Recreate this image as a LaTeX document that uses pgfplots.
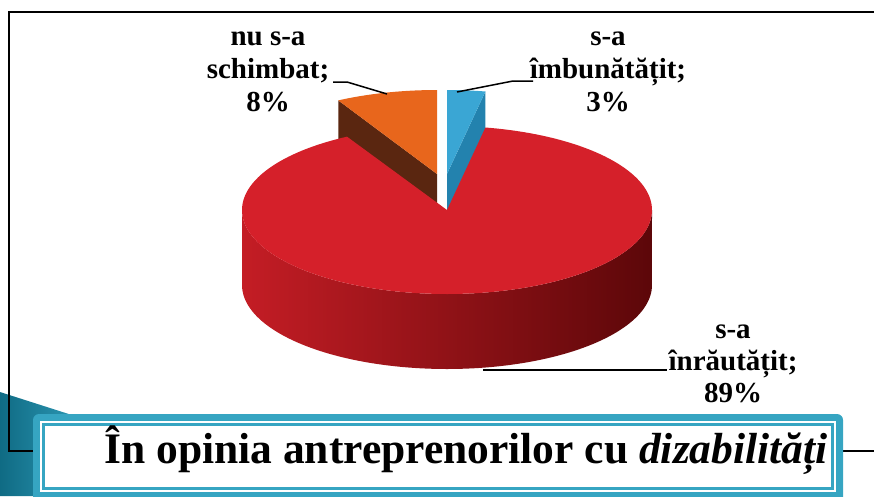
\documentclass[border=0pt]{standalone}
\usepackage{fontspec}
\setmainfont{Liberation Serif}
\usepackage{pgfplots}
\pgfplotsset{compat=1.18}
\usepackage{pgfplotstable}

\definecolor{redtop}{HTML}{D5202A}
\definecolor{redsideL}{HTML}{C41D25}
\definecolor{redsideM}{HTML}{96121A}
\definecolor{redsideR}{HTML}{5C0709}
\definecolor{orangetop}{HTML}{E8661C}
\definecolor{orangeside}{HTML}{5A2610}
\definecolor{bluetop}{HTML}{3AA6D4}
\definecolor{blueside}{HTML}{2382AE}
\definecolor{tealbox}{HTML}{36A5C2}
\definecolor{tealdark}{HTML}{0F6B84}
\definecolor{teallight}{HTML}{2C96B2}

\pgfplotstableread{
share value
imbunatatit 3
schimbat 8
inrautatit 89
}\piedata

% geometry of the pie (pixel units)
\def\pcx{447}\def\pcy{210}\def\prx{205}\def\pry{84}\def\pdd{75}

\begin{document}
\begin{tikzpicture}
\pgfplotstablegetelem{0}{value}\of\piedata\pgfmathsetmacro\vBlue{\pgfplotsretval}
\pgfplotstablegetelem{1}{value}\of\piedata\pgfmathsetmacro\vOrange{\pgfplotsretval}
\pgfmathsetmacro\aBs{90-3.6*\vBlue}
\pgfmathsetmacro\aBe{90}
\pgfmathsetmacro\aOs{90}
\pgfmathsetmacro\aOe{90+3.6*\vOrange}
\pgfmathsetmacro\aRs{\aOe}
\pgfmathsetmacro\aRe{\aBs+360}
% exploded offsets
\def\blx{0}\def\bly{-36}
\def\olx{-10}\def\oly{-36}
% radial faces
\pgfmathsetmacro\BcX{\pcx+\blx}\pgfmathsetmacro\BcY{\pcy+\bly}
\pgfmathsetmacro\BrX{\pcx+\blx+\prx*cos(\aBs)}\pgfmathsetmacro\BrY{\pcy+\bly-\pry*sin(\aBs)}
\pgfmathsetmacro\OcX{\pcx+\olx}\pgfmathsetmacro\OcY{\pcy+\oly}
\pgfmathsetmacro\OrX{\pcx+\olx+\prx*cos(\aOe)}\pgfmathsetmacro\OrY{\pcy+\oly-\pry*sin(\aOe)}
\pgfmathsetmacro\BrYd{\BrY+\pdd}\pgfmathsetmacro\BcYd{\BcY+\pdd}
\pgfmathsetmacro\OrYd{\OrY+\pdd}\pgfmathsetmacro\OcYd{\OcY+\pdd}
\begin{axis}[x=1pt, y=1pt, y dir=reverse,
  xmin=0, xmax=874, ymin=0, ymax=496,
  scale only axis, hide axis, clip=false]

% decorative teal shape bottom-left
\shade[left color=tealdark, right color=teallight] (0,392) -- (75,416) -- (75,496) -- (0,496) -- cycle;

% frame
\draw[line width=2.5pt, line cap=rect] (9,451) -- (9,12) -- (880,12);
\draw[line width=2pt] (9,451) -- (880,451);

% blue slice (exploded)
\addplot[fill=blueside, draw=none] coordinates {(\BcX,\BcY) (\BrX,\BrY) (\BrX,\BrYd) (\BcX,\BcYd)};
\addplot[fill=bluetop, draw=none, domain=-0.05:1, samples=106]
  ({\pcx+\blx+((x<-0.001)?0:1)*\prx*cos(\aBs+(\aBe-\aBs)*x)},
   {\pcy+\bly-((x<-0.001)?0:1)*\pry*sin(\aBs+(\aBe-\aBs)*x)});

% orange slice (exploded)
\addplot[fill=orangeside, draw=none] coordinates {(\OcX,\OcY) (\OrX,\OrY) (\OrX,\OrYd) (\OcX,\OcYd)};
\addplot[fill=orangetop, draw=none, domain=-0.05:1, samples=106]
  ({\pcx+\olx+((x<-0.001)?0:1)*\prx*cos(\aOs+(\aOe-\aOs)*x)},
   {\pcy+\oly-((x<-0.001)?0:1)*\pry*sin(\aOs+(\aOe-\aOs)*x)});

% red slice: side
\addplot[draw=none, left color=redsideL, middle color=redsideM, right color=redsideR, domain=0:2, samples=201]
  ({\pcx+\prx*cos(180+180*((x<=1)?x:(2-x)))},
   {\pcy-\pry*sin(180+180*((x<=1)?x:(2-x)))+((x>1)?\pdd:0)});
% red slice: top
\addplot[fill=redtop, draw=none, domain=-0.05:1, samples=206]
  ({\pcx+((x<-0.001)?0:1)*\prx*cos(\aRs+(\aRe-\aRs)*x)},
   {\pcy-((x<-0.001)?0:1)*\pry*sin(\aRs+(\aRe-\aRs)*x)});

% leader lines
\draw[line width=1.5pt] (333,82) -- (347,82) -- (387,94);
\draw[line width=1.5pt] (533,81) -- (513,81) -- (457,92);
\draw[line width=1.5pt] (483,370) -- (667,370);

% labels
\begin{scope}[every node/.style={anchor=base, font=\fontsize{29}{30}\selectfont\bfseries, inner sep=0pt}]
\node at (268,45) {nu s-a};
\node at (268,78) {schimbat;};
\node at (268,111) {8\%};
\node at (608,45) {s-a};
\node at (608,78) {îmbunătățit;};
\node at (608,111) {3\%};
\node at (733,338) {s-a};
\node at (733,370) {înrăutățit;};
\node at (733,402) {89\%};
\end{scope}

% title box
\fill[tealbox, rounded corners=6pt] (33,414) rectangle (843,506);
\fill[white] (40,421) rectangle (836,492);
\draw[tealbox, line width=2.5pt] (43.5,424.5) rectangle (832.5,488.5);
\node[anchor=base, inner sep=0pt, font=\fontsize{43.5}{45}\selectfont\bfseries] at (466,463) {În opinia antreprenorilor cu \textit{dizabilități}};
\end{axis}
\pgfresetboundingbox
\path[use as bounding box] (current axis.south west) rectangle (current axis.north east);
\end{tikzpicture}
\end{document}
